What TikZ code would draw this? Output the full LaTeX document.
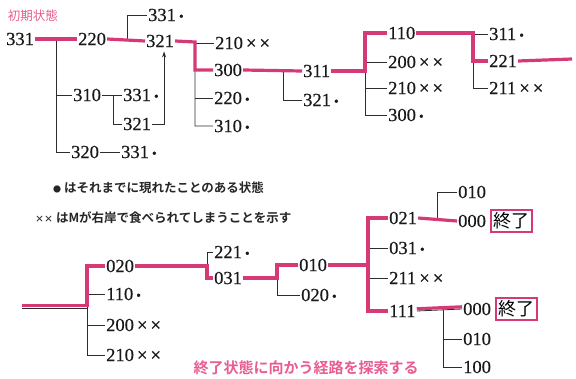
\documentclass[tikz,border=0pt]{standalone}
\usepackage{fontspec}
\setmainfont{Liberation Serif}
\newfontfamily\numf{Liberation Serif}[FakeBold=0.6]
\newfontfamily\jp{Noto Sans CJK JP}
\newfontfamily\jpb{Noto Sans CJK JP Bold}
\usetikzlibrary{arrows.meta}
\definecolor{pk}{RGB}{214,58,118}
\definecolor{pkt}{RGB}{232,92,146}
\definecolor{lnc}{RGB}{45,45,45}
\newcommand\mybul{\,{\fontsize{13}{13}\selectfont\raisebox{0.5pt}{•}}}
\newcommand\myxx{\,×\,×}
\tikzset{
  st/.style={anchor=west, inner sep=0pt, inner xsep=1pt, font=\numf\fontsize{18.5}{18.5}\selectfont, text=black!90},
  ln/.style={draw=lnc, line width=0.8pt},
  hl/.style={draw=pk, line width=3.2pt},
  endbox/.style={draw=pk, line width=1.6pt, inner sep=2.5pt, anchor=west, font=\jp\fontsize{18}{18}\selectfont},
  legend/.style={anchor=west, inner sep=0pt, font=\jpb\fontsize{12.5}{13}\selectfont, text=black!85},
}
\begin{document}
\begin{tikzpicture}[x=1pt,y=-1pt]
\useasboundingbox (0,0) rectangle (576,378);
% ---------- top tree ----------
\node[anchor=center, inner sep=0pt, font=\jp\fontsize{12.5}{12.5}\selectfont, text=pkt] (init) at (33,16) {初期状態};
\node[st] (a331) at (5,39) {331};
\node[st] (a220) at (77,39) {220};
\node[st] (a321) at (145,41) {321};
\node[st] (a331b) at (147,15) {331\mybul};
\node[st] (a310) at (72,95) {310};
\node[st] (a331c) at (122,95) {331\mybul};
\node[st] (a321b) at (122,124) {321};
\node[st] (a320) at (70,152) {320};
\node[st] (a331d) at (120,152) {331\mybul};
\coordinate (b1) at (56,39);
\coordinate (b2) at (113,95);
\coordinate (b3) at (127,40);
\draw[ln] (a331.east) -- (a220.west);
\draw[ln] (b1) |- (a310.west);
\draw[ln] (b1) |- (a320.west);
\draw[ln] (a310.east) -- (a331c.west);
\draw[ln] (b2) |- (a321b.west);
\draw[ln] (a320.east) -- (a331d.west);
\draw[ln] (a220.east) -- (a321.west);
\draw[ln] (b3) |- (a331b.west);
\draw[ln,-{Stealth[length=6pt,width=4pt]}] (a321b.east) -| ([xshift=4pt,yshift=-4pt]a321.south);
\draw[hl] (a331.east) -- (a220.west);
\draw[hl] (a220.east) -- (a321.west);
% level b
\node[st] (b210) at (214,43) {210\myxx};
\node[st] (b300) at (213,70) {300};
\node[st] (b220) at (213,98) {220\mybul};
\node[st] (b310) at (213,126) {310\mybul};
\coordinate (b4) at (195,42);
\draw[ln] (a321.east) -- (b4) |- (b310.west);
\draw[ln] (b4 |- b210.west) -- (b210.west);
\draw[ln] (b4 |- b300.west) -- (b300.west);
\draw[ln] (b4 |- b220.west) -- (b220.west);
\draw[hl] (a321.east) -- (b4) |- (b300.west);
% level c
\node[st] (c311) at (302,71) {311};
\node[st] (c321) at (302,100) {321\mybul};
\coordinate (b5) at (283,70.5);
\draw[ln] (b300.east) -- (c311.west);
\draw[ln] (b5) |- (c321.west);
\draw[hl] (b300.east) -- (c311.west);
% level d
\node[st] (d110) at (387,33) {110};
\node[st] (d200) at (387,62) {200\myxx};
\node[st] (d210) at (387,88) {210\myxx};
\node[st] (d300) at (387,115) {300\mybul};
\coordinate (b6) at (365,71);
\draw[ln] (c311.east) -- (b6);
\draw[ln] (b6 |- d110.west) |- (d300.west);
\draw[ln] (b6 |- d110.west) -- (d110.west);
\draw[ln] (b6 |- d200.west) -- (d200.west);
\draw[ln] (b6 |- d210.west) -- (d210.west);
\draw[hl] (c311.east) -- (b6) |- (d110.west);
% level e
\node[st] (e311) at (488,34) {311\mybul};
\node[st] (e221) at (488,61) {221};
\node[st] (e211) at (488,88) {211\myxx};
\coordinate (b7) at (473,33);
\coordinate (eend) at (572,59);
\draw[ln] (d110.east) -- (b7) |- (e211.west);
\draw[ln] (b7 |- e311.west) -- (e311.west);
\draw[ln] (b7 |- e221.west) -- (e221.west);
\draw[hl] (d110.east) -- (b7) |- (e221.west);
\draw[hl] (e221.east) -- (eend);
% ---------- legend ----------
\node[legend] (L1) at (53,188) {{\fontsize{8}{8}\selectfont●}\ はそれまでに現れたことのある状態};
\node[legend] (L2) at (35,218) {{\fontsize{9}{9}\selectfont ××}\ はMが右岸で食べられてしまうことを示す};
% ---------- bottom tree ----------
\coordinate (s0) at (22,308);
\coordinate (b8) at (87,308);
\node[st] (f020) at (105,266) {020};
\node[st] (f110) at (105,294) {110\mybul};
\node[st] (f200) at (105,325) {200\myxx};
\node[st] (f210) at (105,355) {210\myxx};
\draw[ln] (s0) -- (b8);
\draw[ln] (b8 |- f020.west) |- (f210.west);
\draw[ln] (b8 |- f020.west) -- (f020.west);
\draw[ln] (b8 |- f110.west) -- (f110.west);
\draw[ln] (b8 |- f200.west) -- (f200.west);
\draw[hl] ([yshift=2.2pt]s0) -- ([yshift=2.2pt]b8) |- (f020.west);
% g
\node[st] (g221) at (213,252) {221\mybul};
\node[st] (g031) at (213,278) {031};
\coordinate (b9) at (207,266);
\draw[ln] (f020.east) -- (b9);
\draw[ln] (b9 |- g221.west) |- (g031.west);
\draw[ln] (b9 |- g221.west) -- (g221.west);
\draw[hl] (f020.east) -- (b9) |- (g031.west);
% h
\node[st] (h010) at (298,265) {010};
\node[st] (h020) at (300,295) {020\mybul};
\coordinate (b10) at (277,278);
\draw[ln] (g031.east) -- (b10);
\draw[ln] (b10 |- h010.west) |- (h020.west);
\draw[ln] (b10 |- h010.west) -- (h010.west);
\draw[hl] (g031.east) -- (b10) |- (h010.west);
% i
\node[st] (i021) at (388,218) {021};
\node[st] (i031) at (388,248) {031\mybul};
\node[st] (i211) at (388,278) {211\myxx};
\node[st] (i111) at (388,311) {111};
\coordinate (b11) at (368,265);
\draw[ln] (h010.east) -- (b11);
\draw[ln] (b11 |- i021.west) |- (i111.west);
\draw[ln] (b11 |- i021.west) -- (i021.west);
\draw[ln] (b11 |- i031.west) -- (i031.west);
\draw[ln] (b11 |- i211.west) -- (i211.west);
\draw[hl] (h010.east) -- (b11);
\draw[hl] (i021.west) -| (b11) |- (i111.west);
% j
\node[st] (j010) at (457,192) {010};
\node[st] (j000) at (457,221) {000};
\node[endbox] (k1) at ([xshift=3pt]j000.east) {終了};
\coordinate (b12) at (437,220);
\draw[ln] (i021.east) -- (j000.west);
\draw[ln] (b12) |- (j010.west);
\draw[hl] (i021.east) -- (j000.west);
% m
\node[st] (m000) at (462,309) {000};
\node[st] (m010) at (462,339) {010};
\node[st] (m100) at (462,367) {100};
\node[endbox] (k2) at ([xshift=3pt]m000.east) {終了};
\coordinate (b13) at (443,310);
\draw[ln] (i111.east) -- (m000.west);
\draw[ln] (b13) |- (m100.west);
\draw[ln] (b13 |- m010.west) -- (m010.west);
\draw[hl] ([yshift=2.2pt]i111.east) -- ([yshift=2.2pt]m000.west);
% caption
\node[anchor=center, inner sep=0pt, font=\jpb\fontsize{15}{15}\selectfont, text=pkt] (cap) at (306,368) {終了状態に向かう経路を探索する};
\end{tikzpicture}
\end{document}
